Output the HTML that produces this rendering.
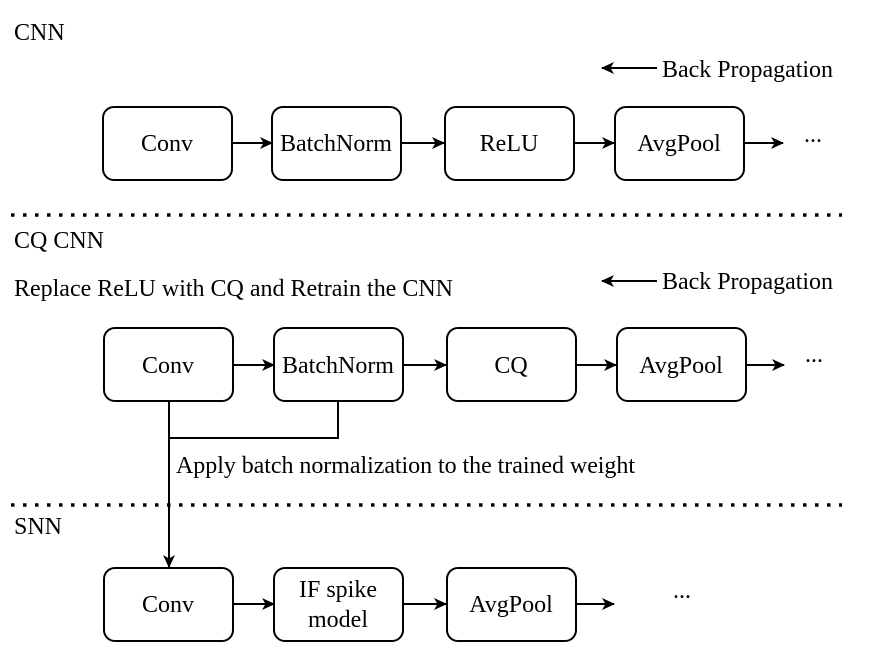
<!DOCTYPE html>
<html><head><meta charset="utf-8"><style>
html,body{margin:0;padding:0;background:#fff;}
svg{display:block;}
text{font-family:"Liberation Serif",serif;font-size:24px;fill:#000;}
</style></head><body>
<svg width="892" height="654" viewBox="0 0 892 654" xmlns="http://www.w3.org/2000/svg">
<defs><marker id="a" markerWidth="13" markerHeight="12" refX="12" refY="6" orient="auto" markerUnits="userSpaceOnUse"><path d="M0,0 L13,6 L0,12 L3.5,6 Z" fill="#000"/></marker></defs>
<g fill="none" stroke="#000" stroke-width="2">
<rect x="103" y="107" width="129" height="73" rx="11"/>
<rect x="272" y="107" width="129" height="73" rx="11"/>
<rect x="445" y="107" width="129" height="73" rx="11"/>
<rect x="615" y="107" width="129" height="73" rx="11"/>
<rect x="104" y="328" width="129" height="73" rx="11"/>
<rect x="274" y="328" width="129" height="73" rx="11"/>
<rect x="447" y="328" width="129" height="73" rx="11"/>
<rect x="617" y="328" width="129" height="73" rx="11"/>
<rect x="104" y="568" width="129" height="73" rx="11"/>
<rect x="274" y="568" width="129" height="73" rx="11"/>
<rect x="447" y="568" width="129" height="73" rx="11"/>
<g marker-end="url(#a)">
<line x1="232" y1="143" x2="272" y2="143"/>
<line x1="401" y1="143" x2="444" y2="143"/>
<line x1="574" y1="143" x2="614" y2="143"/>
<line x1="744" y1="143" x2="783" y2="143"/>
<line x1="233" y1="365" x2="274" y2="365"/>
<line x1="404" y1="365" x2="446" y2="365"/>
<line x1="576" y1="365" x2="616" y2="365"/>
<line x1="746" y1="365" x2="784" y2="365"/>
<line x1="233" y1="604" x2="274" y2="604"/>
<line x1="404" y1="604" x2="446" y2="604"/>
<line x1="576" y1="604" x2="614" y2="604"/>
<line x1="657" y1="68" x2="602" y2="68"/>
<line x1="657" y1="281" x2="602" y2="281"/>
<line x1="169" y1="401" x2="169" y2="567"/>
</g>
<polyline points="169,438 338,438 338,401"/>
<line x1="11" y1="215" x2="842" y2="215" stroke-width="3.5" stroke-dasharray="3.5,8.5"/>
<line x1="11" y1="505" x2="842" y2="505" stroke-width="3.5" stroke-dasharray="3.5,8.5"/>
</g>
<text x="14" y="40">CNN</text>
<text x="14" y="248">CQ CNN</text>
<text x="14" y="296" textLength="439">Replace ReLU with CQ and Retrain the CNN</text>
<text x="14" y="534">SNN</text>
<text x="662" y="77" textLength="171">Back Propagation</text>
<text x="662" y="289" textLength="171">Back Propagation</text>
<text x="176" y="473" textLength="459">Apply batch normalization to the trained weight</text>
<g text-anchor="middle">
<text x="167" y="151">Conv</text>
<text x="336" y="151">BatchNorm</text>
<text x="509" y="151">ReLU</text>
<text x="679" y="151">AvgPool</text>
<text x="168" y="373">Conv</text>
<text x="338" y="373">BatchNorm</text>
<text x="511" y="373">CQ</text>
<text x="681" y="373">AvgPool</text>
<text x="168" y="612">Conv</text>
<text x="338" y="597">IF spike</text>
<text x="338" y="627">model</text>
<text x="511" y="612">AvgPool</text>
<text x="813" y="142">...</text>
<text x="814" y="362">...</text>
<text x="682" y="598">...</text>
</g>
</svg>
</body></html>
